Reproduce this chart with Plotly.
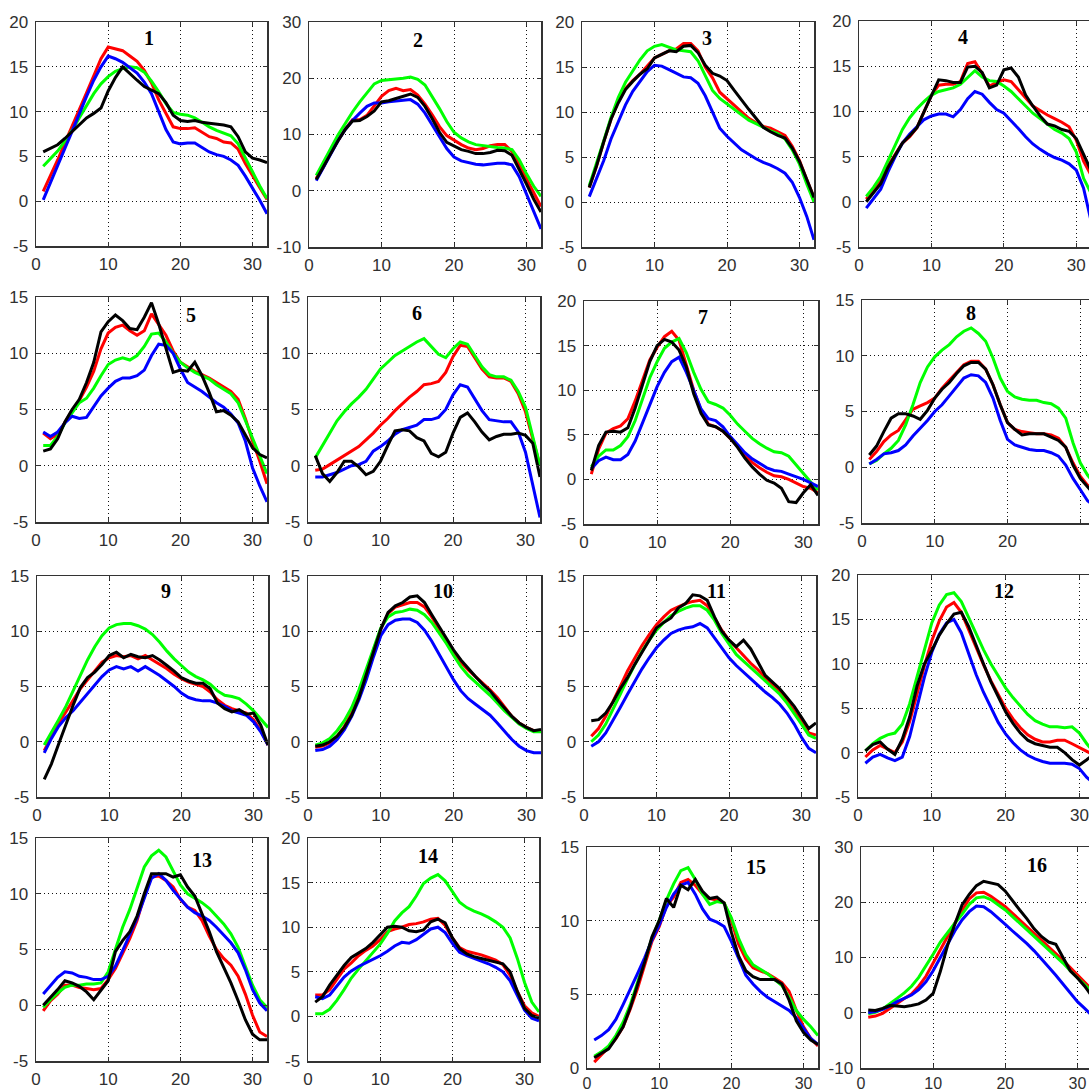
import plotly.graph_objects as go

# ---------------- data ----------------
x_vals = list(range(1, 33))
x_ticks = [0, 10, 20, 30]
panel_labels = ["1", "2", "3", "4", "5", "6", "7", "8", "9", "10", "11", "12", "13", "14", "15", "16"]

y_ticks_a = [-5, 0, 5, 10, 15, 20]
y_ticks_b = [-10, 0, 10, 20, 30]
y_ticks_c = [-5, 0, 5, 10, 15]
y_ticks_d = [0, 5, 10, 15]

# panel 1
red_1 = [1.1, 2.8, 4.6, 6.5, 8.3, 10.2, 12.1, 14.0, 15.9, 17.2, 17.0, 16.8, 16.2, 15.6, 14.6, 13.2, 11.3, 9.8, 8.3, 8.1, 8.1, 8.2, 7.7, 7.2, 7.0, 6.6, 6.5, 5.8, 4.2, 2.8, 1.5, 0.2]
green_1 = [3.9, 4.7, 5.6, 6.7, 7.9, 9.3, 10.7, 12.0, 13.1, 13.9, 14.5, 14.8, 15.0, 14.9, 14.4, 13.4, 12.2, 10.9, 9.9, 9.7, 9.6, 9.3, 8.8, 8.3, 7.9, 7.6, 7.3, 6.4, 4.8, 3.2, 1.7, 0.3]
blue_1 = [0.15, 2.0, 3.9, 5.9, 7.8, 9.8, 11.7, 13.5, 15.0, 16.2, 15.9, 15.5, 14.9, 14.3, 13.3, 12.0, 10.0, 8.0, 6.6, 6.4, 6.5, 6.5, 6.0, 5.5, 5.2, 5.0, 4.6, 4.0, 2.8, 1.5, 0.1, -1.4]
black_1 = [5.5, 5.9, 6.3, 7.0, 7.8, 8.6, 9.3, 9.8, 10.4, 12.3, 13.8, 15.0, 14.2, 13.5, 12.8, 12.4, 12.0, 11.0, 9.6, 9.0, 8.9, 9.0, 8.8, 8.7, 8.6, 8.5, 8.3, 7.2, 5.5, 4.8, 4.6, 4.3]
# panel 2
red_2 = [2.2, 4.2, 6.8, 9.0, 11.0, 12.6, 12.6, 13.4, 15.0, 16.8, 17.8, 18.2, 17.8, 18.0, 17.0, 15.4, 13.5, 11.4, 9.8, 9.0, 8.2, 7.6, 7.3, 7.5, 8.0, 8.2, 8.2, 7.0, 4.5, 2.0, -0.5, -2.8]
green_2 = [2.7, 5.0, 7.5, 9.9, 12.0, 14.0, 15.8, 17.4, 19.0, 19.6, 19.7, 19.8, 20.0, 20.2, 19.8, 18.8, 16.8, 14.6, 12.3, 10.4, 9.4, 8.7, 8.2, 8.0, 7.8, 7.7, 7.6, 7.3, 5.5, 3.0, 0.8, -1.0]
blue_2 = [1.8, 4.2, 6.6, 8.9, 10.9, 12.5, 13.8, 15.0, 15.6, 15.6, 15.8, 16.0, 16.1, 16.2, 15.4, 13.8, 11.8, 9.6, 7.5, 6.0, 5.3, 5.0, 4.7, 4.6, 4.8, 4.9, 4.9, 4.6, 2.5, -0.5, -3.8, -6.8]
black_2 = [2.0, 4.2, 6.6, 8.9, 10.9, 12.4, 12.5, 13.2, 14.2, 15.8, 16.0, 16.4, 16.8, 17.2, 16.6, 15.0, 12.8, 10.4, 8.6, 7.9, 7.3, 7.0, 6.6, 6.6, 6.8, 7.2, 7.1, 6.3, 3.8, 1.2, -1.5, -3.8]
# panel 3
red_3 = [1.6, 4.0, 6.7, 9.2, 11.2, 12.6, 13.5, 14.2, 15.1, 16.0, 16.4, 16.8, 17.0, 17.6, 17.6, 16.8, 15.0, 13.8, 12.2, 11.5, 10.8, 10.0, 9.3, 8.8, 8.4, 8.2, 7.8, 7.4, 6.2, 4.6, 2.5, 0.5]
green_3 = [1.8, 4.2, 6.8, 9.4, 11.6, 13.3, 14.6, 15.8, 16.8, 17.3, 17.5, 17.2, 16.9, 16.8, 16.7, 15.7, 14.0, 12.4, 11.5, 10.9, 10.3, 9.7, 9.1, 8.7, 8.3, 7.9, 7.6, 7.0, 5.8, 4.2, 2.0, 0.0]
blue_3 = [0.6, 2.5, 4.6, 7.0, 9.0, 10.8, 12.3, 13.4, 14.5, 15.2, 15.1, 14.7, 14.3, 13.9, 13.8, 13.2, 11.8, 10.0, 8.2, 7.3, 6.5, 5.8, 5.3, 4.8, 4.4, 4.1, 3.7, 3.2, 2.2, 0.5, -1.6, -4.2]
black_3 = [1.6, 4.0, 6.7, 9.2, 11.0, 12.5, 13.4, 14.2, 14.8, 16.0, 16.4, 16.8, 16.7, 17.3, 17.4, 16.6, 15.2, 14.3, 14.0, 13.5, 12.4, 11.3, 10.3, 9.3, 8.3, 7.8, 7.4, 7.1, 6.0, 4.5, 2.5, 0.5]
# panel 4
red_4 = [0.3, 1.4, 2.4, 4.0, 5.2, 6.5, 7.2, 8.2, 10.0, 11.8, 12.9, 13.0, 13.0, 13.3, 15.3, 15.5, 14.2, 12.8, 13.2, 13.5, 13.3, 12.4, 11.5, 10.6, 10.1, 9.6, 9.2, 8.8, 8.3, 6.8, 4.5, 3.0]
green_4 = [0.6, 1.6, 2.8, 4.6, 6.4, 8.0, 9.3, 10.3, 11.1, 11.8, 12.2, 12.4, 12.6, 13.0, 13.8, 14.5, 13.8, 13.4, 13.3, 12.8, 12.2, 11.4, 10.5, 9.8, 9.2, 8.6, 8.0, 7.6, 7.0, 5.5, 2.6, 1.0]
blue_4 = [-0.7, 0.3, 1.4, 3.3, 5.0, 6.5, 7.5, 8.3, 9.1, 9.5, 9.7, 9.7, 9.4, 10.2, 11.4, 12.2, 11.9, 11.0, 10.2, 9.8, 9.0, 8.1, 7.2, 6.4, 5.8, 5.3, 4.9, 4.6, 4.2, 3.5, 1.5, -2.0]
black_4 = [0.0, 1.0, 2.0, 3.8, 5.2, 6.5, 7.3, 8.2, 10.0, 11.8, 13.5, 13.4, 13.2, 13.2, 14.9, 15.0, 14.3, 12.6, 12.9, 14.6, 14.8, 13.8, 11.8, 10.6, 9.5, 8.6, 8.4, 8.0, 7.8, 7.0, 5.2, 3.5]
# panel 5
red_5 = [2.9, 2.4, 2.8, 3.9, 4.9, 5.8, 7.0, 8.4, 10.4, 11.8, 12.3, 12.5, 12.0, 11.6, 12.0, 13.5, 12.6, 11.6, 10.2, 9.2, 8.8, 8.4, 8.1, 7.8, 7.4, 7.0, 6.6, 5.9, 4.2, 2.2, 0.4, -1.6]
green_5 = [1.8, 1.8, 2.6, 3.8, 4.7, 5.6, 6.0, 6.9, 8.0, 9.0, 9.4, 9.6, 9.4, 9.8, 10.6, 11.7, 11.8, 11.0, 10.0, 9.2, 8.7, 8.3, 8.0, 7.7, 7.2, 6.8, 6.4, 5.6, 4.0, 2.4, 0.8, -0.7]
blue_5 = [3.0, 2.6, 3.0, 3.8, 4.4, 4.2, 4.3, 5.2, 6.2, 6.9, 7.5, 7.8, 7.8, 8.0, 8.5, 9.8, 10.8, 10.7, 10.0, 8.6, 7.4, 7.0, 6.6, 6.1, 5.6, 5.2, 4.6, 3.8, 2.2, -0.2, -1.8, -3.2]
black_5 = [1.3, 1.5, 2.4, 3.9, 5.0, 5.9, 7.4, 9.2, 11.9, 12.8, 13.4, 12.9, 12.2, 12.1, 13.2, 14.5, 12.6, 10.4, 8.3, 8.5, 8.4, 9.2, 8.0, 6.5, 4.8, 4.9, 4.5, 3.9, 2.8, 1.6, 1.0, 0.7]
# panel 6
red_6 = [-0.4, -0.3, 0.1, 0.5, 0.9, 1.3, 1.7, 2.3, 2.9, 3.6, 4.2, 4.9, 5.5, 6.1, 6.6, 7.2, 7.3, 7.5, 8.3, 9.7, 10.7, 10.6, 9.6, 8.6, 7.9, 7.8, 7.8, 7.5, 6.4, 4.8, 2.4, 0.0]
green_6 = [0.7, 1.8, 2.9, 4.0, 4.8, 5.5, 6.1, 6.8, 7.7, 8.6, 9.2, 9.8, 10.2, 10.6, 11.0, 11.3, 10.6, 9.9, 9.6, 10.4, 11.0, 10.8, 9.8, 8.8, 8.1, 7.9, 7.9, 7.6, 6.6, 5.2, 2.6, 0.0]
blue_6 = [-1.0, -1.0, -0.8, -0.6, -0.3, 0.0, 0.1, 0.4, 1.3, 1.7, 2.2, 2.8, 3.2, 3.4, 3.6, 4.1, 4.1, 4.3, 5.0, 6.3, 7.2, 7.0, 6.0, 4.9, 4.1, 4.0, 3.9, 3.9, 3.0, 1.2, -1.8, -4.6]
black_6 = [0.9, -0.7, -1.4, -0.6, 0.4, 0.4, -0.1, -0.8, -0.5, 0.4, 1.8, 3.1, 3.2, 3.1, 2.5, 2.2, 1.1, 0.8, 1.2, 2.9, 4.3, 4.7, 3.9, 3.0, 2.3, 2.6, 2.8, 2.8, 2.9, 2.7, 2.0, -1.0]
# panel 7
red_7 = [0.6, 3.4, 5.2, 5.7, 6.0, 6.8, 8.8, 11.2, 13.4, 14.8, 16.0, 16.6, 15.6, 12.8, 10.0, 7.8, 6.2, 5.9, 5.4, 4.6, 3.7, 2.7, 1.9, 1.3, 0.8, 0.4, 0.3, 0.0, -0.4, -0.8, -1.0, -1.5]
green_7 = [1.4, 2.6, 3.3, 3.3, 3.8, 4.8, 6.6, 9.0, 11.4, 13.2, 14.7, 15.4, 15.8, 14.2, 12.0, 10.1, 8.7, 8.4, 8.0, 7.2, 6.2, 5.4, 4.6, 4.0, 3.5, 3.1, 3.0, 2.6, 1.6, 0.6, -0.3, -1.2]
blue_7 = [1.2, 2.1, 2.5, 2.2, 2.2, 2.8, 4.3, 6.3, 8.2, 10.4, 12.0, 13.2, 13.7, 12.0, 10.0, 7.9, 6.8, 6.6, 5.9, 4.8, 3.9, 3.0, 2.3, 1.8, 1.3, 1.0, 0.9, 0.6, 0.3, 0.0, -0.4, -0.8]
black_7 = [1.0, 3.8, 5.3, 5.4, 5.3, 5.8, 8.0, 10.5, 13.2, 15.0, 15.7, 15.4, 14.5, 12.6, 9.6, 7.4, 6.1, 5.9, 5.4, 4.6, 3.6, 2.4, 1.4, 0.6, -0.1, -0.4, -1.0, -2.5, -2.6, -1.5, -0.6, -1.8]
# panel 8
red_8 = [0.7, 1.4, 2.3, 2.9, 3.3, 4.2, 5.2, 5.5, 5.8, 6.2, 7.1, 7.8, 8.5, 9.2, 9.5, 9.5, 8.8, 7.4, 5.6, 4.0, 3.4, 3.2, 3.1, 3.0, 3.0, 2.9, 2.6, 1.8, 0.4, -0.8, -1.6, -2.2]
green_8 = [0.3, 0.6, 1.2, 1.7, 2.4, 3.8, 5.6, 7.6, 9.0, 9.9, 10.5, 11.0, 11.7, 12.2, 12.5, 12.0, 11.3, 9.8, 8.0, 6.8, 6.3, 6.1, 6.0, 6.0, 5.8, 5.7, 5.3, 4.4, 2.2, 0.4, -0.7, -1.5]
blue_8 = [0.3, 0.7, 1.2, 1.3, 1.5, 2.0, 2.8, 3.5, 4.2, 5.0, 5.6, 6.4, 7.2, 8.0, 8.3, 8.2, 7.6, 6.2, 4.2, 2.5, 2.0, 1.8, 1.6, 1.5, 1.5, 1.3, 1.0, 0.2, -1.0, -2.0, -3.0, -3.5]
black_8 = [1.1, 1.9, 3.2, 4.4, 4.8, 4.8, 4.6, 4.3, 5.1, 6.2, 7.0, 7.6, 8.4, 9.1, 9.4, 9.4, 8.8, 7.4, 5.6, 4.0, 3.4, 2.9, 3.0, 3.0, 3.0, 2.7, 2.4, 1.8, 0.2, -1.0, -1.8, -2.5]
# panel 9
red_9 = [-0.8, 0.5, 1.7, 2.7, 3.8, 4.8, 5.6, 6.4, 7.2, 7.6, 7.8, 7.7, 7.8, 7.5, 7.8, 7.4, 7.0, 6.6, 6.1, 5.7, 5.4, 5.2, 5.0, 4.5, 3.8, 3.3, 3.0, 2.8, 2.6, 2.0, 1.0, -0.3]
green_9 = [-0.3, 0.8, 2.0, 3.2, 4.6, 6.0, 7.4, 8.6, 9.6, 10.3, 10.6, 10.7, 10.7, 10.5, 10.2, 9.7, 9.0, 8.2, 7.5, 6.9, 6.3, 5.9, 5.6, 5.2, 4.6, 4.2, 4.1, 3.9, 3.4, 2.8, 2.0, 1.3]
blue_9 = [-1.0, 0.3, 1.4, 2.2, 2.8, 3.6, 4.4, 5.2, 5.9, 6.5, 6.8, 6.6, 6.8, 6.4, 6.8, 6.4, 6.0, 5.5, 5.0, 4.4, 4.0, 3.8, 3.7, 3.7, 3.5, 3.2, 2.8, 2.6, 2.4, 1.8, 0.9, -0.3]
black_9 = [-3.4, -2.0, -0.2, 1.6, 3.3, 4.9, 5.8, 6.3, 7.0, 7.8, 8.1, 7.6, 7.9, 7.7, 7.6, 7.8, 7.4, 6.9, 6.4, 5.8, 5.5, 5.3, 5.3, 4.8, 3.5, 3.0, 2.7, 2.9, 2.5, 2.6, 1.5, -0.3]
# panel 10
red_10 = [-0.5, -0.4, -0.1, 0.5, 1.4, 2.6, 4.2, 6.1, 8.3, 10.2, 11.6, 12.2, 12.4, 12.6, 12.6, 12.2, 11.3, 10.2, 9.1, 8.1, 7.2, 6.5, 5.9, 5.3, 4.7, 4.0, 3.1, 2.3, 1.7, 1.3, 1.0, 1.0]
green_10 = [-0.3, -0.1, 0.3, 1.0, 1.9, 3.1, 4.7, 6.6, 8.6, 10.3, 11.3, 11.7, 11.8, 12.0, 11.9, 11.5, 10.8, 9.9, 8.9, 7.8, 6.8, 6.0, 5.4, 4.8, 4.2, 3.5, 2.8, 2.2, 1.6, 1.2, 0.9, 0.9]
blue_10 = [-0.8, -0.7, -0.4, 0.2, 1.1, 2.3, 3.8, 5.6, 7.7, 9.6, 10.6, 11.0, 11.1, 11.1, 10.8, 10.1, 9.1, 7.9, 6.7, 5.6, 4.6, 3.9, 3.4, 2.9, 2.4, 1.7, 0.9, 0.2, -0.4, -0.8, -1.0, -1.0]
black_10 = [-0.4, -0.3, 0.0, 0.5, 1.3, 2.4, 4.0, 6.0, 8.2, 10.2, 11.7, 12.3, 12.6, 13.1, 13.2, 12.6, 11.5, 10.4, 9.3, 8.3, 7.4, 6.6, 5.9, 5.2, 4.6, 3.8, 3.0, 2.3, 1.7, 1.3, 1.0, 1.1]
# panel 11
red_11 = [0.5, 1.2, 2.3, 3.6, 5.0, 6.4, 7.6, 8.7, 9.7, 10.6, 11.3, 11.9, 12.2, 12.5, 12.7, 12.8, 12.3, 11.2, 10.1, 9.2, 8.5, 7.8, 7.1, 6.5, 5.8, 5.2, 4.5, 3.7, 2.8, 1.8, 0.8, 0.6]
green_11 = [0.0, 0.6, 1.6, 2.9, 4.3, 5.7, 7.0, 8.2, 9.2, 10.1, 10.8, 11.4, 11.8, 12.1, 12.3, 12.3, 11.9, 11.0, 9.8, 8.8, 7.9, 7.3, 6.7, 6.1, 5.5, 4.9, 4.3, 3.5, 2.6, 1.6, 0.6, 0.3]
blue_11 = [-0.4, 0.0, 0.8, 1.9, 3.1, 4.3, 5.5, 6.6, 7.6, 8.5, 9.2, 9.8, 10.1, 10.3, 10.4, 10.7, 10.3, 9.4, 8.4, 7.6, 6.9, 6.3, 5.7, 5.1, 4.5, 4.0, 3.4, 2.6, 1.6, 0.4, -0.6, -1.0]
black_11 = [1.9, 2.0, 2.6, 3.6, 4.8, 5.8, 7.0, 8.1, 9.2, 10.3, 10.8, 11.2, 12.1, 12.5, 13.3, 13.2, 12.8, 11.3, 10.0, 9.2, 8.6, 9.2, 8.4, 7.2, 6.0, 5.4, 4.8, 4.0, 3.2, 2.2, 1.2, 1.7]
# panel 12
red_12 = [-0.5, 0.3, 0.8, 0.4, 0.0, 1.2, 3.5, 6.6, 9.8, 12.6, 14.8, 16.4, 16.9, 15.8, 13.8, 11.8, 9.9, 8.1, 6.5, 5.0, 3.8, 2.8, 2.0, 1.5, 1.2, 1.2, 1.4, 1.4, 1.0, 0.6, 0.2, -0.3]
green_12 = [0.2, 1.0, 1.6, 2.0, 2.2, 3.2, 5.5, 8.6, 11.8, 14.6, 16.6, 17.8, 18.0, 17.0, 15.2, 13.3, 11.6, 10.0, 8.6, 7.3, 6.2, 5.2, 4.3, 3.6, 3.2, 2.9, 2.9, 2.8, 2.9, 2.2, 1.0, 0.0]
blue_12 = [-1.2, -0.5, -0.2, -0.6, -0.9, -0.5, 1.8, 5.0, 8.5, 11.3, 13.3, 14.6, 15.0, 13.5, 11.2, 8.8, 6.8, 5.0, 3.4, 2.1, 1.1, 0.3, -0.3, -0.7, -1.0, -1.2, -1.2, -1.2, -1.3, -1.8, -2.8, -3.5]
black_12 = [0.2, 0.9, 1.2, 0.4, -0.2, 1.5, 4.0, 7.5, 10.0, 11.5, 13.2, 14.5, 15.6, 15.8, 14.2, 12.0, 10.0, 8.0, 6.2, 4.6, 3.3, 2.2, 1.4, 1.0, 0.8, 0.6, 0.6, 0.0, -0.8, -1.4, -0.8, -0.1]
# panel 13
red_13 = [-0.5, 0.4, 1.0, 1.8, 1.8, 1.6, 1.5, 1.4, 1.5, 2.3, 3.3, 4.6, 6.0, 7.6, 9.8, 11.5, 11.6, 11.2, 10.6, 9.5, 8.8, 8.5, 7.6, 6.2, 5.0, 4.2, 3.6, 2.6, 1.0, -0.9, -2.4, -2.8]
green_13 = [-0.2, 0.5, 1.1, 1.6, 1.8, 1.8, 1.9, 1.9, 2.0, 3.0, 5.0, 7.0, 8.6, 10.5, 12.4, 13.4, 13.9, 13.3, 12.0, 10.8, 10.0, 9.6, 9.2, 8.7, 8.0, 7.3, 6.4, 5.2, 3.5, 1.8, 0.5, -0.2]
blue_13 = [1.0, 1.8, 2.5, 3.0, 2.9, 2.6, 2.5, 2.3, 2.3, 2.6, 3.5, 4.9, 6.3, 7.8, 9.6, 11.4, 11.8, 11.2, 10.3, 9.5, 8.8, 8.3, 8.0, 7.6, 7.0, 6.3, 5.6, 4.7, 3.2, 1.4, 0.2, -0.5]
black_13 = [0.0, 0.7, 1.4, 2.2, 2.0, 1.7, 1.2, 0.5, 1.4, 2.2, 4.8, 5.8, 6.6, 8.0, 10.0, 11.8, 11.8, 11.8, 11.5, 11.7, 10.6, 9.8, 8.2, 6.6, 4.8, 3.4, 2.0, 0.4, -1.3, -2.6, -3.1, -3.1]
# panel 14
red_14 = [2.4, 2.4, 3.0, 4.2, 5.3, 6.0, 6.8, 7.4, 7.9, 8.6, 9.5, 9.8, 10.0, 10.3, 10.4, 10.6, 10.9, 11.0, 10.2, 8.8, 7.7, 7.3, 7.1, 6.9, 6.6, 6.3, 5.8, 4.6, 2.8, 1.2, 0.4, 0.0]
green_14 = [0.3, 0.3, 0.8, 1.8, 3.0, 4.3, 5.3, 6.2, 7.2, 8.1, 9.3, 10.7, 11.6, 12.3, 13.5, 14.9, 15.5, 15.9, 15.2, 14.0, 12.8, 12.2, 11.8, 11.5, 11.1, 10.6, 10.0, 8.8, 6.5, 3.8, 1.6, 0.5]
blue_14 = [2.2, 2.0, 2.4, 3.4, 4.4, 5.1, 5.6, 6.0, 6.4, 6.8, 7.3, 7.9, 8.3, 8.2, 8.6, 9.2, 9.8, 10.0, 9.4, 8.2, 7.2, 6.8, 6.5, 6.2, 5.9, 5.5, 5.0, 4.0, 2.4, 0.7, -0.2, -0.5]
black_14 = [1.6, 2.2, 3.5, 4.6, 5.7, 6.6, 7.1, 7.6, 8.3, 9.2, 10.0, 10.1, 10.0, 9.6, 9.5, 9.7, 10.6, 10.9, 10.5, 8.8, 7.6, 7.0, 6.7, 6.5, 6.3, 6.1, 5.9, 5.0, 2.8, 0.9, 0.1, -0.2]
# panel 15
red_15 = [0.4, 0.9, 1.4, 2.0, 2.8, 4.0, 5.4, 7.0, 8.6, 9.6, 11.0, 11.6, 12.6, 12.8, 12.4, 11.8, 11.5, 11.4, 11.2, 10.0, 8.4, 7.4, 6.8, 6.6, 6.4, 6.1, 5.8, 5.2, 3.9, 2.8, 2.0, 1.5]
green_15 = [0.8, 1.1, 1.5, 2.2, 3.1, 4.3, 5.8, 7.3, 8.8, 10.0, 11.4, 12.5, 13.4, 13.6, 12.8, 11.8, 11.1, 11.3, 11.2, 10.2, 8.8, 7.7, 7.0, 6.7, 6.4, 6.0, 5.6, 4.8, 3.9, 3.3, 2.8, 2.2]
blue_15 = [1.9, 2.2, 2.6, 3.3, 4.3, 5.3, 6.4, 7.5, 8.7, 9.7, 10.9, 11.8, 12.4, 12.6, 11.8, 10.8, 10.1, 9.9, 9.6, 8.6, 7.4, 6.3, 5.7, 5.2, 4.8, 4.5, 4.2, 3.9, 3.4, 2.7, 2.0, 1.6]
black_15 = [0.7, 1.0, 1.3, 2.0, 2.8, 4.1, 5.6, 7.2, 8.9, 10.0, 11.5, 10.9, 12.4, 12.1, 12.8, 12.0, 11.5, 11.6, 11.2, 9.2, 7.6, 6.6, 6.2, 6.0, 6.0, 6.0, 5.7, 4.6, 3.2, 2.4, 1.9, 1.6]
# panel 16
red_16 = [-0.8, -0.6, -0.1, 0.8, 1.8, 2.6, 3.4, 4.8, 6.6, 9.0, 11.6, 14.0, 16.2, 18.5, 20.6, 21.7, 21.8, 21.1, 20.2, 19.2, 18.0, 16.8, 15.6, 14.4, 13.2, 12.0, 10.8, 9.5, 8.2, 6.8, 5.5, 4.2]
green_16 = [-0.2, 0.1, 0.7, 1.6, 2.6, 3.6, 4.8, 6.4, 8.4, 10.6, 12.8, 14.6, 16.2, 17.8, 19.6, 20.8, 21.0, 20.5, 19.6, 18.6, 17.4, 16.2, 15.0, 13.8, 12.6, 11.4, 10.2, 9.0, 7.6, 6.3, 5.0, 3.8]
blue_16 = [0.0, 0.2, 0.6, 1.2, 2.0, 2.6, 3.2, 4.2, 5.6, 7.6, 10.0, 12.4, 14.8, 16.8, 18.3, 19.3, 19.2, 18.3, 17.2, 16.0, 14.8, 13.7, 12.5, 11.2, 9.8, 8.3, 6.8, 5.2, 3.5, 2.0, 0.8, -0.5]
black_16 = [0.5, 0.4, 0.8, 1.3, 1.2, 1.1, 1.3, 1.6, 2.3, 3.5, 7.5, 12.2, 16.0, 19.5, 21.4, 23.0, 23.8, 23.5, 23.2, 22.0, 20.2, 18.6, 17.0, 15.2, 13.8, 12.8, 12.4, 10.0, 7.6, 6.3, 4.8, 3.0]

reds = [red_1, red_2, red_3, red_4, red_5, red_6, red_7, red_8, red_9, red_10, red_11, red_12, red_13, red_14, red_15, red_16]
greens = [green_1, green_2, green_3, green_4, green_5, green_6, green_7, green_8, green_9, green_10, green_11, green_12, green_13, green_14, green_15, green_16]
blues = [blue_1, blue_2, blue_3, blue_4, blue_5, blue_6, blue_7, blue_8, blue_9, blue_10, blue_11, blue_12, blue_13, blue_14, blue_15, blue_16]
blacks = [black_1, black_2, black_3, black_4, black_5, black_6, black_7, black_8, black_9, black_10, black_11, black_12, black_13, black_14, black_15, black_16]

y_tick_sets = [y_ticks_a, y_ticks_b, y_ticks_a, y_ticks_a,
               y_ticks_c, y_ticks_c, y_ticks_a, y_ticks_c,
               y_ticks_c, y_ticks_c, y_ticks_c, y_ticks_a,
               y_ticks_c, y_ticks_a, y_ticks_d, y_ticks_b]

# ---------------- layout (pixel boxes: left, right, top, bottom, x max) ----------------
W, H = 1089, 1091
boxes = [
    (36, 267, 22, 246, 32), (309, 541, 22, 247, 32), (582, 814, 22, 247, 32), (859, 1089, 21, 247, 31.75),
    (36, 267, 297, 522, 32), (308, 540, 297, 522, 32), (584, 818, 301, 524, 32), (862, 1089, 300, 523, 31.2),
    (37, 268, 576, 797, 32), (308, 541, 576, 797, 32), (584, 816, 576, 797, 32), (858, 1089, 575, 797, 31.3),
    (36, 267, 838, 1061, 32), (308, 539, 838, 1061, 32), (587, 818, 847, 1068, 32), (861, 1089, 847, 1068, 31.6),
]
label_pos = [
    (0.49, 0.93), (0.47, 0.92), (0.54, 0.93), (0.45, 0.93),
    (0.67, 0.92), (0.47, 0.93), (0.51, 0.93), (0.48, 0.94),
    (0.56, 0.93), (0.58, 0.93), (0.57, 0.93), (0.63, 0.93),
    (0.72, 0.90), (0.52, 0.92), (0.73, 0.91), (0.77, 0.92),
]

colors = {"red": "#ff0000", "green": "#00ff00", "blue": "#0000ff", "black": "#000000"}

fig = go.Figure()
layout = dict(
    width=W, height=H, margin=dict(l=0, r=0, t=0, b=0, autoexpand=False),
    paper_bgcolor="white", plot_bgcolor="white", showlegend=False,
    font=dict(family="Liberation Sans, Arial, sans-serif", size=17, color="#303030"),
    annotations=[],
)

tick_font = dict(family="Liberation Sans, Arial, sans-serif", size=17, color="#303030")
tick_font_low = dict(family="Liberation Sans, Arial, sans-serif", size=16, color="#303030")

for i in range(16):
    n = i + 1
    xa = "x" if n == 1 else f"x{n}"
    ya = "y" if n == 1 else f"y{n}"
    left, right, top, bottom, xmax = boxes[i]
    last_col = (i % 4 == 3)
    low_row = bottom > 1065
    yt = y_tick_sets[i]
    for series, cname in ((reds[i], "red"), (greens[i], "green"), (blues[i], "blue"), (blacks[i], "black")):
        fig.add_trace(go.Scatter(
            x=x_vals, y=series, xaxis=xa, yaxis=ya, mode="lines",
            line=dict(color=colors[cname], width=3), hoverinfo="skip", cliponaxis=True,
        ))
    layout["xaxis" if n == 1 else f"xaxis{n}"] = dict(
        domain=[left / W, min(right / W, 1.0)], anchor=ya, range=[0, xmax],
        tickvals=x_ticks, ticktext=[str(v) for v in x_ticks], automargin=False,
        showgrid=True, gridcolor="#111111", gridwidth=1, griddash="1px,3px",
        zeroline=False, showline=True, linecolor="#333333", linewidth=1.5,
        mirror="ticks", ticks="inside", ticklen=4, tickcolor="#333333",
        tickfont=tick_font_low if low_row else tick_font, ticklabelstandoff=0 if low_row else 2,
    )
    layout["yaxis" if n == 1 else f"yaxis{n}"] = dict(
        domain=[1 - bottom / H, 1 - top / H], anchor=xa, range=[yt[0], yt[-1]],
        tickvals=yt, ticktext=[str(v) for v in yt], automargin=False,
        showgrid=True, gridcolor="#111111", gridwidth=1, griddash="1px,3px",
        zeroline=False, showline=True, linecolor="#333333", linewidth=1.5,
        mirror=False if last_col else "ticks", ticks="inside", ticklen=4, tickcolor="#333333",
        tickfont=tick_font, ticklabelstandoff=3,
    )
    lx, ly = label_pos[i]
    layout["annotations"].append(dict(
        text=f"<b>{panel_labels[i]}</b>", xref=f"{xa} domain", yref=f"{ya} domain",
        x=lx, y=ly, xanchor="center", yanchor="middle", showarrow=False,
        font=dict(family="Liberation Serif, Times New Roman, serif", size=20, color="#000000"),
    ))

fig.update_layout(**layout)
fig.write_html(
    "out.html",
    config={"displayModeBar": False, "staticPlot": True},
    post_script="document.body.style.margin='0';document.body.style.overflow='hidden';",
)
